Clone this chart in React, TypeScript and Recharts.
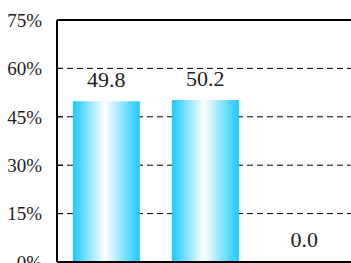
import { BarChart, Bar, XAxis, YAxis, CartesianGrid, ReferenceLine } from 'recharts';

// values
const categories = ['A', 'B', 'C'];
const values = [49.8, 50.2, 0.0];
const yTicks = [0, 15, 30, 45, 60, 75];

const data = categories.map((name, i) => ({ name, value: values[i] }));

const font = 'Liberation Serif, DejaVu Serif, serif';

// draws the value above the bar, also for the zero bar
const ValueLabel = (props: any) => {
  const { x, y, width, value } = props;
  if (value == null) return null;
  return (
    <text
      x={Number(x) + Number(width) / 2}
      y={Number(y) - 14}
      textAnchor="middle"
      fill="#222"
      fontSize={22}
      fontFamily={font}
    >
      {Number(value).toFixed(1)}
    </text>
  );
};

export default function App() {
  return (
    <div style={{ position: 'absolute', left: 0, top: 0 }}>
      <BarChart
        width={360}
        height={290}
        data={data}
        margin={{ top: 20, right: 6, left: 0, bottom: 0 }}
        barCategoryGap="16%"
      >
        <defs>
          <linearGradient id="barFill" x1="0" y1="0" x2="1" y2="0">
            <stop offset="0%" stopColor="#1cc9ff" />
            <stop offset="48%" stopColor="#ffffff" />
            <stop offset="100%" stopColor="#1cc9ff" />
          </linearGradient>
        </defs>
        <CartesianGrid vertical={false} stroke="#000" strokeDasharray="6 4" />
        <YAxis
          width={57}
          domain={[0, 75]}
          ticks={yTicks}
          interval={0}
          tickFormatter={(v: number) => `${v}%`}
          tickSize={-6}
          tickMargin={21}
          tickLine={{ stroke: '#000' }}
          axisLine={{ stroke: '#000', strokeWidth: 2 }}
          tick={{ fill: '#222', fontSize: 19, fontFamily: font }}
        />
        <ReferenceLine y={75} stroke="#000" strokeWidth={2} />
        <Bar
          dataKey="value"
          fill="url(#barFill)"
          minPointSize={1}
          label={ValueLabel}
          isAnimationActive={false}
        />
        <XAxis
          dataKey="name"
          height={28}
          tick={false}
          tickLine={false}
          axisLine={{ stroke: '#000', strokeWidth: 2 }}
        />
      </BarChart>
    </div>
  );
}
